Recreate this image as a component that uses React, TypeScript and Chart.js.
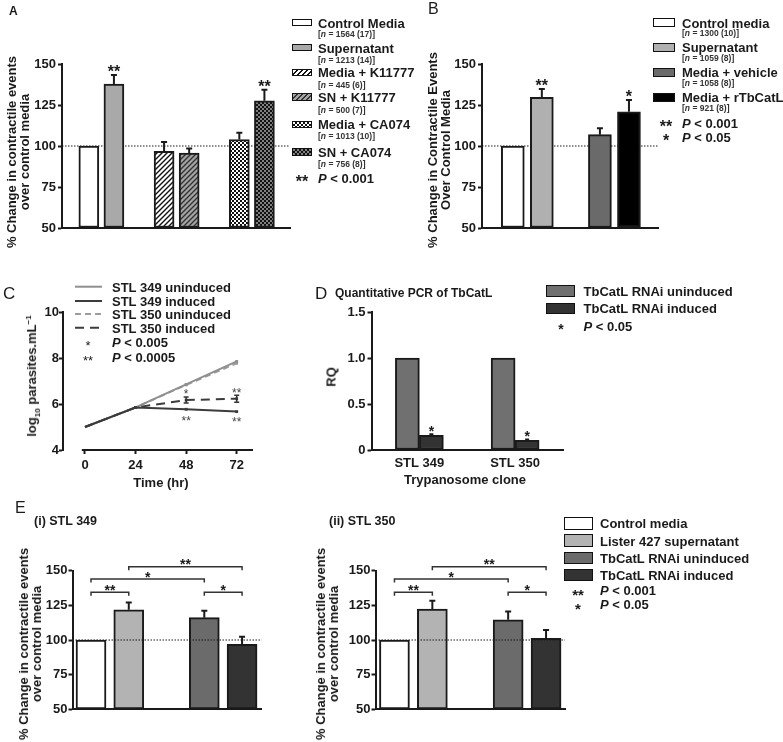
import React, { useEffect, useRef } from 'react';
import { Chart, registerables } from 'chart.js';
Chart.register(...registerables);

const FONT = "'Liberation Sans', Arial, Helvetica, sans-serif";
const INK = '#1a1a1a';

// ---------- Panel A ----------
const aLabels = ['Control Media', 'Supernatant', 'Media + K11777', 'SN + K11777', 'Media + CA074', 'SN + CA074'];
const aCounts = ['1564 (17)', '1213 (14)', '445 (6)', '500 (7)', '1013 (10)', '756 (8)'];
const aSlots = [0, 1, 3, 4, 6, 7];
const aValues = [100, 137.8, 96.8, 95.7, 103.9, 127.6];
const aErrors = [0, 5.5, 5.6, 2.7, 4.2, 6.7];
const aStars = ['', '**', '', '', '', '**'];
const aTicks = [50, 75, 100, 125, 150];

// ---------- Panel B ----------
const bLabels = ['Control media', 'Supernatant', 'Media + vehicle', 'Media + rTbCatL'];
const bCounts = ['1300 (10)', '1059 (8)', '1058 (8)', '921 (8)'];
const bSlots = [0, 1, 3, 4];
const bValues = [100, 129.7, 106.9, 120.9];
const bErrors = [0, 5.1, 3.9, 7.1];
const bStars = ['', '**', '', '*'];
const bColors = ['#ffffff', '#b0b0b0', '#6a6a6a', '#000000'];
const bTicks = [50, 75, 100, 125, 150];

// ---------- Panel C ----------
const cSeries = ['STL 349 uninduced', 'STL 349 induced', 'STL 350 uninduced', 'STL 350 induced'];
const cTimes = [0, 24, 48, 72];
const c349Uninduced = [5.0, 5.85, 6.85, 7.85];
const c349Induced = [5.0, 5.85, 5.77, 5.67];
const c350Uninduced = [5.0, 5.85, 6.83, 7.77];
const c350Induced = [5.0, 5.85, 6.17, 6.23];
const c350InducedErr = [0, 0, 0.13, 0.15];
const cYTicks = [4, 6, 8, 10];
const cXTicks = [0, 24, 48, 72];
const cStarTimes = [48, 72, 48, 72];
const cStarValues = [6.55, 6.62, 5.4, 5.37];
const cStarText = ['*', '**', '**', '**'];
const cColors = ['#8f8f8f', '#3c3c3c', '#9c9c9c', '#3c3c3c'];
const cDash = [[], [], [6, 4], [9, 6]];

// ---------- Panel D ----------
const dClones = ['STL 349', 'STL 350'];
const dSeries = ['TbCatL RNAi uninduced', 'TbCatL RNAi induced'];
const dUninduced = [1.0, 1.0];
const dInduced = [0.16, 0.105];
const dInducedErr = [0.01, 0.008];
const dStars = ['*', '*'];
const dTicks = [0, 0.5, 1.0, 1.5];

// ---------- Panel E ----------
const eLabels = ['Control media', 'Lister 427 supernatant', 'TbCatL RNAi uninduced', 'TbCatL RNAi induced'];
const eSlots = [0, 1, 3, 4];
const e349Values = [100, 121.8, 116.1, 96.9];
const e349Errors = [0, 5.3, 5.0, 5.5];
const e350Values = [100, 122.3, 114.6, 101.2];
const e350Errors = [0, 6.0, 6.0, 6.0];
const eColors = ['#ffffff', '#b3b3b3', '#6b6b6b', '#333333'];
const eTicks = [50, 75, 100, 125, 150];
// bracket ends are bar indices (0..3)
const eBracketFrom = [0, 0, 1, 2];
const eBracketTo = [1, 2, 3, 3];
const eBracketLevel = [134.4, 144, 152.9, 134.4];
const eBracketText = ['**', '*', '**', '*'];

// ---------- helpers ----------
const tickFont = { family: FONT, size: 13, weight: 'bold' as const };

function stripePattern(bg: string, fg: string) {
  const s = 5;
  const c = document.createElement('canvas');
  c.width = s; c.height = s;
  const x = c.getContext('2d')!;
  x.fillStyle = bg; x.fillRect(0, 0, s, s);
  x.strokeStyle = fg; x.lineWidth = 1.4;
  x.beginPath();
  x.moveTo(-1, s + 1); x.lineTo(s + 1, -1);
  x.moveTo(-1, 1); x.lineTo(1, -1);
  x.moveTo(s - 1, s + 1); x.lineTo(s + 1, s - 1);
  x.stroke();
  return x.createPattern(c, 'repeat');
}

function checkPattern(bg: string, fg: string) {
  const c = document.createElement('canvas');
  c.width = 4; c.height = 4;
  const x = c.getContext('2d')!;
  x.fillStyle = bg; x.fillRect(0, 0, 4, 4);
  x.fillStyle = fg; x.fillRect(0, 0, 2, 2); x.fillRect(2, 2, 2, 2);
  return x.createPattern(c, 'repeat');
}

function starAt(ctx: CanvasRenderingContext2D, text: string, x: number, cy: number, size: number, weight = 'bold', color = INK) {
  ctx.save();
  ctx.font = `${weight} ${size}px ${FONT}`;
  ctx.fillStyle = color;
  ctx.textAlign = 'center';
  ctx.textBaseline = 'alphabetic';
  ctx.fillText(text, x, cy + 0.585 * size);
  ctx.restore();
}

function refLinePlugin(value: number, after: boolean) {
  const draw = (chart: any) => {
    const { ctx, chartArea, scales } = chart;
    const y = scales.y.getPixelForValue(value);
    ctx.save();
    ctx.setLineDash([1.5, 1.5]);
    ctx.lineWidth = 1;
    ctx.strokeStyle = INK;
    ctx.beginPath();
    ctx.moveTo(chartArea.left, y);
    ctx.lineTo(chartArea.right, y);
    ctx.stroke();
    ctx.restore();
  };
  return after ? { id: 'refLine', afterDatasetsDraw: draw } : { id: 'refLine', beforeDatasetsDraw: draw };
}

function errorPlugin(dsIndex: number, values: number[], errors: number[], stars: string[], starSize: number, starGap: number, capHalf = 3) {
  return {
    id: 'errors' + dsIndex,
    afterDatasetsDraw(chart: any) {
      const { ctx } = chart;
      const y = chart.scales.y;
      const meta = chart.getDatasetMeta(dsIndex);
      meta.data.forEach((el: any, i: number) => {
        const x = el.x;
        const base = y.getPixelForValue(values[i]);
        const top = y.getPixelForValue(values[i] + errors[i]);
        if (errors[i] > 0) {
          ctx.save();
          ctx.strokeStyle = INK;
          ctx.lineWidth = 2;
          ctx.beginPath();
          ctx.moveTo(x, base);
          ctx.lineTo(x, top);
          ctx.moveTo(x - capHalf, top);
          ctx.lineTo(x + capHalf, top);
          ctx.stroke();
          ctx.restore();
        }
        if (stars[i]) starAt(ctx, stars[i], x, top - starGap, starSize);
      });
    },
  };
}

function bracketPlugin() {
  return {
    id: 'brackets',
    afterDatasetsDraw(chart: any) {
      const { ctx } = chart;
      const xs = chart.scales.x;
      const ys = chart.scales.y;
      eBracketFrom.forEach((f, i) => {
        const x1 = xs.getPixelForValue(eSlots[f]);
        const x2 = xs.getPixelForValue(eSlots[eBracketTo[i]]);
        const y = ys.getPixelForValue(eBracketLevel[i]);
        ctx.save();
        ctx.strokeStyle = '#333';
        ctx.lineWidth = 1.5;
        ctx.beginPath();
        ctx.moveTo(x1, y + 3.5);
        ctx.lineTo(x1, y);
        ctx.lineTo(x2, y);
        ctx.lineTo(x2, y + 3.5);
        ctx.stroke();
        ctx.restore();
        starAt(ctx, eBracketText[i], (x1 + x2) / 2, y - 5.5, 14);
      });
    },
  };
}

function yAxis(width: number, ticks: number[], padding: number, fmt?: (v: number) => string) {
  return {
    min: ticks[0],
    max: ticks[ticks.length - 1],
    afterFit: (s: any) => { s.width = width; },
    afterBuildTicks: (s: any) => { s.ticks = ticks.map((v) => ({ value: v })); },
    ticks: { color: INK, font: tickFont, padding, callback: fmt ? (v: any) => fmt(Number(v)) : (v: any) => String(v) },
    grid: { display: true, drawOnChartArea: false, drawTicks: true, tickLength: 4, tickWidth: 2, tickColor: INK },
    border: { display: true, width: 2, color: INK },
  };
}

function xBarAxis(min: number, max: number, height: number) {
  return {
    type: 'linear' as const,
    min, max,
    offset: false,
    afterFit: (s: any) => { s.height = height; },
    ticks: { display: false },
    grid: { display: false, drawTicks: false, offset: false },
    border: { display: true, width: 2, color: INK },
  };
}

const baseOptions = (pad: any) => ({
  responsive: false,
  animation: false as const,
  devicePixelRatio: 1,
  events: [],
  layout: { padding: pad },
  plugins: { legend: { display: false }, tooltip: { enabled: false } },
});

function buildA() {
  const fills = [
    '#ffffff',
    '#a9a9a9',
    stripePattern('#ffffff', '#111111'),
    stripePattern('#a4a4a4', '#333333'),
    checkPattern('#ffffff', '#111111'),
    checkPattern('#808080', '#111111'),
  ];
  return {
    type: 'bar',
    data: {
      datasets: [{
        data: aSlots.map((s, i) => ({ x: s, y: aValues[i] })),
        backgroundColor: fills, borderColor: INK, borderWidth: 2, borderSkipped: false,
        barThickness: 20, base: 50,
      }],
    },
    options: {
      ...baseOptions({ top: 64, right: 10, left: 0, bottom: 0 }),
      scales: { x: xBarAxis(-1.07, 8.02, 17), y: yAxis(62, aTicks, 2) },
    },
    plugins: [refLinePlugin(100, false), errorPlugin(0, aValues, aErrors, aStars, 16, 7)],
  };
}

function buildB() {
  return {
    type: 'bar',
    data: {
      datasets: [{
        data: bSlots.map((s, i) => ({ x: s, y: bValues[i] })),
        backgroundColor: bColors, borderColor: INK, borderWidth: 2, borderSkipped: false,
        barThickness: 23, base: 50,
      }],
    },
    options: {
      ...baseOptions({ top: 64, right: 12, left: 0, bottom: 0 }),
      scales: { x: xBarAxis(-1.06, 5.0, 17), y: yAxis(92, bTicks, 2) },
    },
    plugins: [refLinePlugin(100, false), errorPlugin(0, bValues, bErrors, bStars, 16, 7.5)],
  };
}

function buildC() {
  const series = [c349Uninduced, c349Induced, c350Uninduced, c350Induced];
  const orders = [1, 0, 1, 0];
  return {
    type: 'line',
    data: {
      datasets: series.map((vals, k) => ({
        label: cSeries[k],
        data: cTimes.map((t, i) => ({ x: t, y: vals[i] })),
        borderColor: cColors[k], backgroundColor: cColors[k], pointBackgroundColor: cColors[k],
        borderWidth: 2, borderDash: cDash[k], pointStyle: 'rect', pointRadius: [0, 2, 2, 2],
        pointBorderWidth: 0, tension: 0, order: orders[k],
      })),
    },
    options: {
      ...baseOptions({ top: 42, right: 37, left: 0, bottom: 0 }),
      scales: {
        x: {
          type: 'linear', min: -10.44, max: 79.73,
          afterFit: (s: any) => { s.height = 35; },
          afterBuildTicks: (s: any) => { s.ticks = cXTicks.map((v) => ({ value: v })); },
          ticks: { color: INK, font: tickFont, padding: 4 },
          grid: { display: true, drawOnChartArea: false, tickLength: 4, tickWidth: 2, tickColor: INK },
          border: { display: false },
        },
        y: yAxis(63, cYTicks, 0),
      },
    },
    plugins: [{
      id: 'cExtras',
      afterDatasetsDraw(chart: any) {
        const { ctx, chartArea } = chart;
        const xs = chart.scales.x;
        const ys = chart.scales.y;
        ctx.save();
        ctx.strokeStyle = INK;
        ctx.lineWidth = 2;
        ctx.beginPath();
        ctx.moveTo(xs.getPixelForValue(-1.5), chartArea.bottom);
        ctx.lineTo(chartArea.right, chartArea.bottom);
        ctx.stroke();
        ctx.strokeStyle = '#333';
        ctx.lineWidth = 1.5;
        cTimes.forEach((t, i) => {
          if (!c350InducedErr[i]) return;
          const x = xs.getPixelForValue(t);
          const y1 = ys.getPixelForValue(c350Induced[i] - c350InducedErr[i]);
          const y2 = ys.getPixelForValue(c350Induced[i] + c350InducedErr[i]);
          ctx.beginPath();
          ctx.moveTo(x, y1); ctx.lineTo(x, y2);
          ctx.moveTo(x - 2.5, y1); ctx.lineTo(x + 2.5, y1);
          ctx.moveTo(x - 2.5, y2); ctx.lineTo(x + 2.5, y2);
          ctx.stroke();
        });
        ctx.restore();
        cStarTimes.forEach((t, i) => {
          starAt(ctx, cStarText[i], xs.getPixelForValue(t), ys.getPixelForValue(cStarValues[i]), 12, 'normal', '#444');
        });
      },
    }],
  };
}

function buildD() {
  return {
    type: 'bar',
    data: {
      labels: dClones,
      datasets: [
        { label: dSeries[0], data: dUninduced, backgroundColor: '#707070', borderColor: INK, borderWidth: 2, borderSkipped: false, barThickness: 24 },
        { label: dSeries[1], data: dInduced, backgroundColor: '#333333', borderColor: INK, borderWidth: 2, borderSkipped: false, barThickness: 24 },
      ],
    },
    options: {
      ...baseOptions({ top: 42, right: 17, left: 0, bottom: 0 }),
      scales: {
        x: {
          type: 'category',
          afterFit: (s: any) => { s.height = 35; },
          ticks: { color: INK, font: tickFont, padding: 6 },
          grid: { display: false, drawTicks: false },
          border: { display: true, width: 2, color: INK },
        },
        y: yAxis(71.5, dTicks, 2, (v) => (v === 0 ? '0' : v.toFixed(1))),
      },
    },
    plugins: [errorPlugin(1, dInduced, dInducedErr, dStars, 14, 7, 2)],
  };
}

function buildE(values: number[], errors: number[], yWidth: number, xMin: number, xMax: number, padRight: number) {
  return {
    type: 'bar',
    data: {
      datasets: [{
        data: eSlots.map((s, i) => ({ x: s, y: values[i] })),
        backgroundColor: eColors, borderColor: INK, borderWidth: 2, borderSkipped: false,
        barThickness: 30, base: 50,
      }],
    },
    options: {
      ...baseOptions({ top: 40.7, right: padRight, left: 0, bottom: 0 }),
      scales: { x: xBarAxis(xMin, xMax, 32.7), y: yAxis(yWidth, eTicks, 1) },
    },
    plugins: [refLinePlugin(100, true), errorPlugin(0, values, errors, ['', '', '', ''], 14, 6), bracketPlugin()],
  };
}

// ---------- components ----------
function ChartBox({ x, y, w, h, build }: any) {
  const ref = useRef<HTMLCanvasElement>(null);
  useEffect(() => {
    const chart = new Chart(ref.current as HTMLCanvasElement, build() as any);
    return () => chart.destroy();
  }, []);
  return <canvas ref={ref} width={w} height={h} style={{ position: 'absolute', left: x, top: y, width: w, height: h }} />;
}

function Txt({ x, y, size = 13, bold = true, color = INK, center = false, children }: any) {
  return (
    <div style={{
      position: 'absolute', left: x, top: y, fontSize: size, fontWeight: bold ? 'bold' : 'normal',
      lineHeight: 1, whiteSpace: 'nowrap', color,
      transform: center ? 'translate(-50%, -50%)' : 'translateY(-50%)',
    }}>{children}</div>
  );
}

function Star({ x, y, size = 16, color = INK, bold = true, children }: any) {
  return (
    <div style={{
      position: 'absolute', left: x, top: y + 0.24 * size, fontSize: size, fontWeight: bold ? 'bold' : 'normal',
      lineHeight: 1, whiteSpace: 'nowrap', color, transform: 'translate(-50%, -50%)',
    }}>{children}</div>
  );
}

function VTxt({ x, y, size = 13, lh = 13, lines }: any) {
  return (
    <div style={{
      position: 'absolute', left: x, top: y, fontSize: size, fontWeight: 'bold', lineHeight: lh + 'px',
      whiteSpace: 'nowrap', textAlign: 'center', transform: 'translate(-50%, -50%) rotate(-90deg)',
    }}>{lines.map((l: any, i: number) => <div key={i}>{l}</div>)}</div>
  );
}

function Box({ x, y, w, h, bg }: any) {
  return (
    <div style={{
      position: 'absolute', left: x, top: y - h / 2, width: w, height: h, boxSizing: 'border-box',
      border: '1.5px solid #111', ...bg,
    }} />
  );
}

const aBoxBgs = [
  { background: '#ffffff' },
  { background: '#a9a9a9' },
  { background: 'repeating-linear-gradient(135deg, #fff 0 2.2px, #111 2.2px 3.6px)' },
  { background: 'repeating-linear-gradient(135deg, #a4a4a4 0 2.2px, #333 2.2px 3.6px)' },
  { backgroundColor: '#fff', backgroundImage: 'conic-gradient(#111 90deg, #fff 90deg 180deg, #111 180deg 270deg, #fff 270deg)', backgroundSize: '4px 4px' },
  { backgroundColor: '#808080', backgroundImage: 'conic-gradient(#111 90deg, #808080 90deg 180deg, #111 180deg 270deg, #808080 270deg)', backgroundSize: '4px 4px' },
];
const aRows = [22.7, 47.7, 72.3, 97, 124.3, 152];
const aNRows = [34, 60.3, 85, 110, 136, 164];
const bRows = [22.7, 47.3, 72.3, 97.3];
const bNRows = [33.3, 58.3, 83.3, 108.3];
const cRows = [286.7, 301, 314, 327.7];
const dRows = [291, 308.3];
const dColors = ['#707070', '#333333'];
const eRows = [523.3, 540.7, 558, 575];

export default function App() {
  return (
    <div style={{
      position: 'absolute', left: 0, top: 0, width: 783, height: 742, overflow: 'hidden',
      background: '#fff', fontFamily: FONT, color: INK,
    }}>
      {/* Panel A */}
      <ChartBox x={0} y={0} w={300} h={245} build={buildA} />
      <Txt x={9} y={11} size={12}>A</Txt>
      <VTxt x={18} y={152} lines={['% Change in contractile events', 'over control media']} />
      {aLabels.map((l, i) => (
        <React.Fragment key={'a' + i}>
          <Box x={292} y={aRows[i]} w={20} h={7.5} bg={aBoxBgs[i]} />
          <Txt x={318} y={aRows[i]}>{l}</Txt>
          <Txt x={318} y={aNRows[i]} size={8.5} color="#333">[<i>n</i> = {aCounts[i]}]</Txt>
        </React.Fragment>
      ))}
      <Star x={302} y={178.3}>**</Star>
      <Txt x={318} y={178.3}><i>P</i> &lt; 0.001</Txt>

      {/* Panel B */}
      <ChartBox x={390} y={0} w={280} h={245} build={buildB} />
      <Txt x={428} y={9} size={16} bold={false}>B</Txt>
      <VTxt x={439} y={150} lines={['% Change in Contractile Events', 'Over Control Media']} />
      {bLabels.map((l, i) => (
        <React.Fragment key={'b' + i}>
          <Box x={653} y={bRows[i]} w={22} h={9} bg={{ background: bColors[i] }} />
          <Txt x={682} y={bRows[i]}>{l}</Txt>
          <Txt x={682} y={bNRows[i]} size={8.5} color="#333">[<i>n</i> = {bCounts[i]}]</Txt>
        </React.Fragment>
      ))}
      <Star x={666} y={123.3}>**</Star>
      <Txt x={682} y={123.3}><i>P</i> &lt; 0.001</Txt>
      <Star x={666} y={136.7}>*</Star>
      <Txt x={682} y={136.7}><i>P</i> &lt; 0.05</Txt>

      {/* Panel C */}
      <ChartBox x={0} y={270} w={290} h={215} build={buildC} />
      <Txt x={3} y={293} size={17} bold={false}>C</Txt>
      <svg style={{ position: 'absolute', left: 0, top: 270 }} width={110} height={70}>
        {cSeries.map((s, i) => (
          <line key={s} x1={75} x2={102} y1={cRows[i] - 270} y2={cRows[i] - 270}
            stroke={cColors[i]} strokeWidth={2} strokeDasharray={cDash[i].join(' ')} />
        ))}
      </svg>
      {cSeries.map((s, i) => <Txt key={'c' + i} x={112} y={cRows[i]}>{s}</Txt>)}
      <Star x={88} y={342.3} size={13} bold={false}>*</Star>
      <Txt x={112} y={342.3}><i>P</i> &lt; 0.005</Txt>
      <Star x={88} y={356.7} size={13} bold={false}>**</Star>
      <Txt x={112} y={356.7}><i>P</i> &lt; 0.0005</Txt>
      <VTxt x={33} y={376} lines={[<span>log<sub style={{ fontSize: 8 }}>10</sub> parasites.mL<sup style={{ fontSize: 8 }}>−1</sup></span>]} />
      <Txt x={161} y={482} center>Time (hr)</Txt>

      {/* Panel D */}
      <ChartBox x={300} y={270} w={280} h={215} build={buildD} />
      <Txt x={315} y={293} size={17} bold={false}>D</Txt>
      <Txt x={335} y={293} size={12}>Quantitative PCR of TbCatL</Txt>
      {dSeries.map((s, i) => (
        <React.Fragment key={'d' + i}>
          <Box x={546} y={dRows[i]} w={28.5} h={11.5} bg={{ background: dColors[i] }} />
          <Txt x={583.5} y={dRows[i]}>{s}</Txt>
        </React.Fragment>
      ))}
      <Star x={561} y={325.7} size={14}>*</Star>
      <Txt x={583.5} y={325.7}><i>P</i> &lt; 0.05</Txt>
      <VTxt x={331} y={377} lines={['RQ']} />
      <Txt x={465} y={479} center>Trypanosome clone</Txt>

      {/* Panel E */}
      <ChartBox x={0} y={530} w={300} h={212} build={() => buildE(e349Values, e349Errors, 72.5, -0.49, 4.52, 38.3)} />
      <ChartBox x={300} y={530} w={290} h={212} build={() => buildE(e350Values, e350Errors, 75.5, -0.5, 4.5, 25)} />
      <Txt x={15} y={507.7} size={16} bold={false}>E</Txt>
      <Txt x={34} y={520.7} size={12.5}>(i) STL 349</Txt>
      <Txt x={329} y={520.7} size={12.5}>(ii) STL 350</Txt>
      <VTxt x={30} y={644} lines={['% Change in contractile events', 'over control media']} />
      <VTxt x={327} y={644} lines={['% Change in contractile events', 'over control media']} />
      {eLabels.map((l, i) => (
        <React.Fragment key={'e' + i}>
          <Box x={564} y={eRows[i]} w={28.5} h={12.5} bg={{ background: eColors[i] }} />
          <Txt x={600} y={eRows[i]}>{l}</Txt>
        </React.Fragment>
      ))}
      <Star x={578} y={590} size={15}>**</Star>
      <Txt x={600} y={590}><i>P</i> &lt; 0.001</Txt>
      <Star x={578} y={604} size={15}>*</Star>
      <Txt x={600} y={604}><i>P</i> &lt; 0.05</Txt>
    </div>
  );
}
